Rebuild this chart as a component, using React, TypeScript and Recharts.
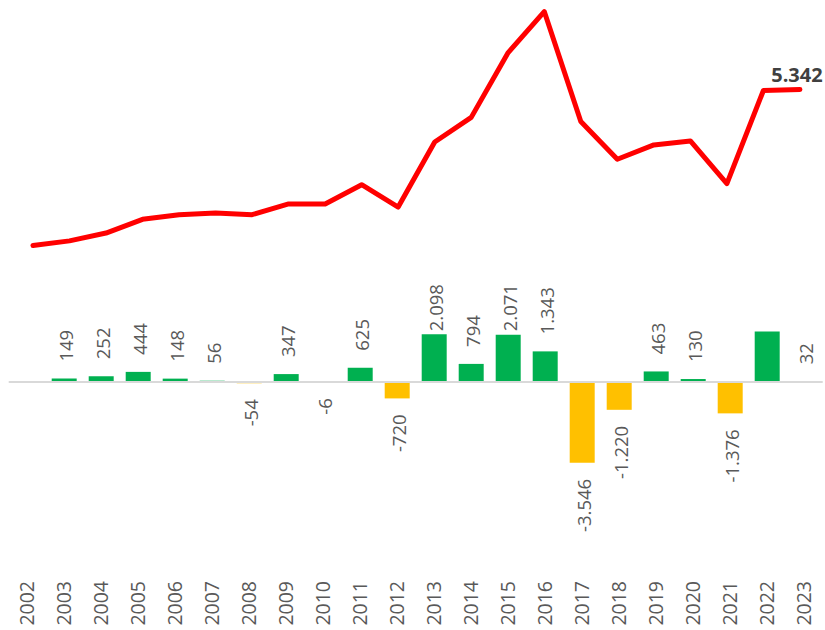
import React from 'react';
import { ComposedChart, Bar, Line, XAxis, YAxis, Cell, ReferenceLine, LabelList } from 'recharts';

const years = ['2002', '2003', '2004', '2005', '2006', '2007', '2008', '2009', '2010', '2011', '2012', '2013', '2014', '2015', '2016', '2017', '2018', '2019', '2020', '2021', '2022', '2023'];
const changes: (number | null)[] = [null, 149, 252, 444, 148, 56, -54, 347, -6, 625, -720, 2098, 794, 2071, 1343, -3546, -1220, 463, 130, -1376, 2210, 32];
const changeLabels = ['', '149', '252', '444', '148', '56', '-54', '347', '-6', '625', '-720', '2.098', '794', '2.071', '1.343', '-3.546', '-1.220', '463', '130', '-1.376', '', '32'];
const totals = [310, 459, 711, 1155, 1303, 1359, 1305, 1652, 1646, 2271, 1551, 3649, 4443, 6514, 7857, 4311, 3091, 3554, 3684, 2308, 5310, 5342];
const lastTotalLabel = '5.342';

const data = years.map((year, i) => ({ year, change: changes[i], label: changeLabels[i], total: totals[i] }));

const FONT = '"Open Sans", sans-serif';
const GREEN = '#00B050';
const ORANGE = '#FFC000';
const TEXT = '#595959';

const estimateLen = (s: string, fs: number) => {
  let w = 0;
  for (const c of s) {
    if (c === '.') w += 0.266;
    else if (c === '-') w += 0.322;
    else w += 0.572;
  }
  return w * fs;
};

const BarLabel = (props: any) => {
  const { x, y, width, height, value } = props;
  const text = value == null ? '' : String(value);
  if (!text) return null;
  const negative = text.startsWith('-');
  const fs = 18.5;
  const bx = x + width / 2 + 8.5;
  const top = Math.min(y, y + height);
  const bottom = Math.max(y, y + height);
  const len = estimateLen(text, fs);
  if (!negative) {
    let ay = top - 17;
    if (ay - len < 284) ay = 284 + len;
    return (
      <text x={bx} y={ay} transform={`rotate(-90 ${bx} ${ay})`} textAnchor="start" fontFamily={FONT} fontSize={fs} fill={TEXT}>
        {text}
      </text>
    );
  }
  const ay = bottom + 16;
  return (
    <text x={bx} y={ay} transform={`rotate(-90 ${bx} ${ay})`} textAnchor="end" fontFamily={FONT} fontSize={fs} fill={TEXT}>
      {text}
    </text>
  );
};

const YearTick = (props: any) => {
  const { x, y, payload } = props;
  const tx = x + 7;
  const ty = y + 19;
  return (
    <text x={tx} y={ty} transform={`rotate(-90 ${tx} ${ty})`} textAnchor="end" fontFamily={FONT} fontSize={19.5} fill={TEXT}>
      {payload.value}
    </text>
  );
};

const LastLabel = (props: any) => {
  const { x, y, index } = props;
  if (index !== totals.length - 1) return null;
  return (
    <text x={x - 3} y={y - 7.5} textAnchor="middle" fontFamily={FONT} fontSize={20} fontWeight="bold" fill="#404040">
      {lastTotalLabel}
    </text>
  );
};

export default function App() {
  return (
    <div style={{ position: 'absolute', left: 0, top: 0, width: 825, height: 630, background: '#fff' }}>
      <ComposedChart
        width={825}
        height={630}
        data={data}
        margin={{ top: 8, right: 2.3, bottom: 0, left: 8.7 }}
      >
        <XAxis
          xAxisId="bar"
          dataKey="year"
          height={68}
          axisLine={false}
          tickLine={false}
          tickSize={0}
          tickMargin={0}
          interval={0}
          tick={<YearTick />}
        />
        <XAxis xAxisId="line" dataKey="year" hide padding={{ left: 6, right: 4.5 }} />
        <YAxis yAxisId="bar" hide domain={[-7895, 16404]} />
        <YAxis yAxisId="line" hide domain={[-9900, 7971]} />
        <ReferenceLine xAxisId="bar" yAxisId="bar" y={0} stroke="#d9d9d9" strokeWidth={2} />
        <Bar xAxisId="bar" yAxisId="bar" dataKey="change" barSize={25} isAnimationActive={false}>
          {data.map((d, i) => (
            <Cell key={i} fill={(d.change ?? 0) >= 0 ? GREEN : ORANGE} />
          ))}
          <LabelList dataKey="label" content={<BarLabel />} />
        </Bar>
        <Line
          xAxisId="line"
          yAxisId="line"
          dataKey="total"
          stroke="#FF0000"
          strokeWidth={5}
          strokeLinecap="round"
          strokeLinejoin="round"
          dot={false}
          activeDot={false}
          isAnimationActive={false}
          label={<LastLabel />}
        />
      </ComposedChart>
    </div>
  );
}
